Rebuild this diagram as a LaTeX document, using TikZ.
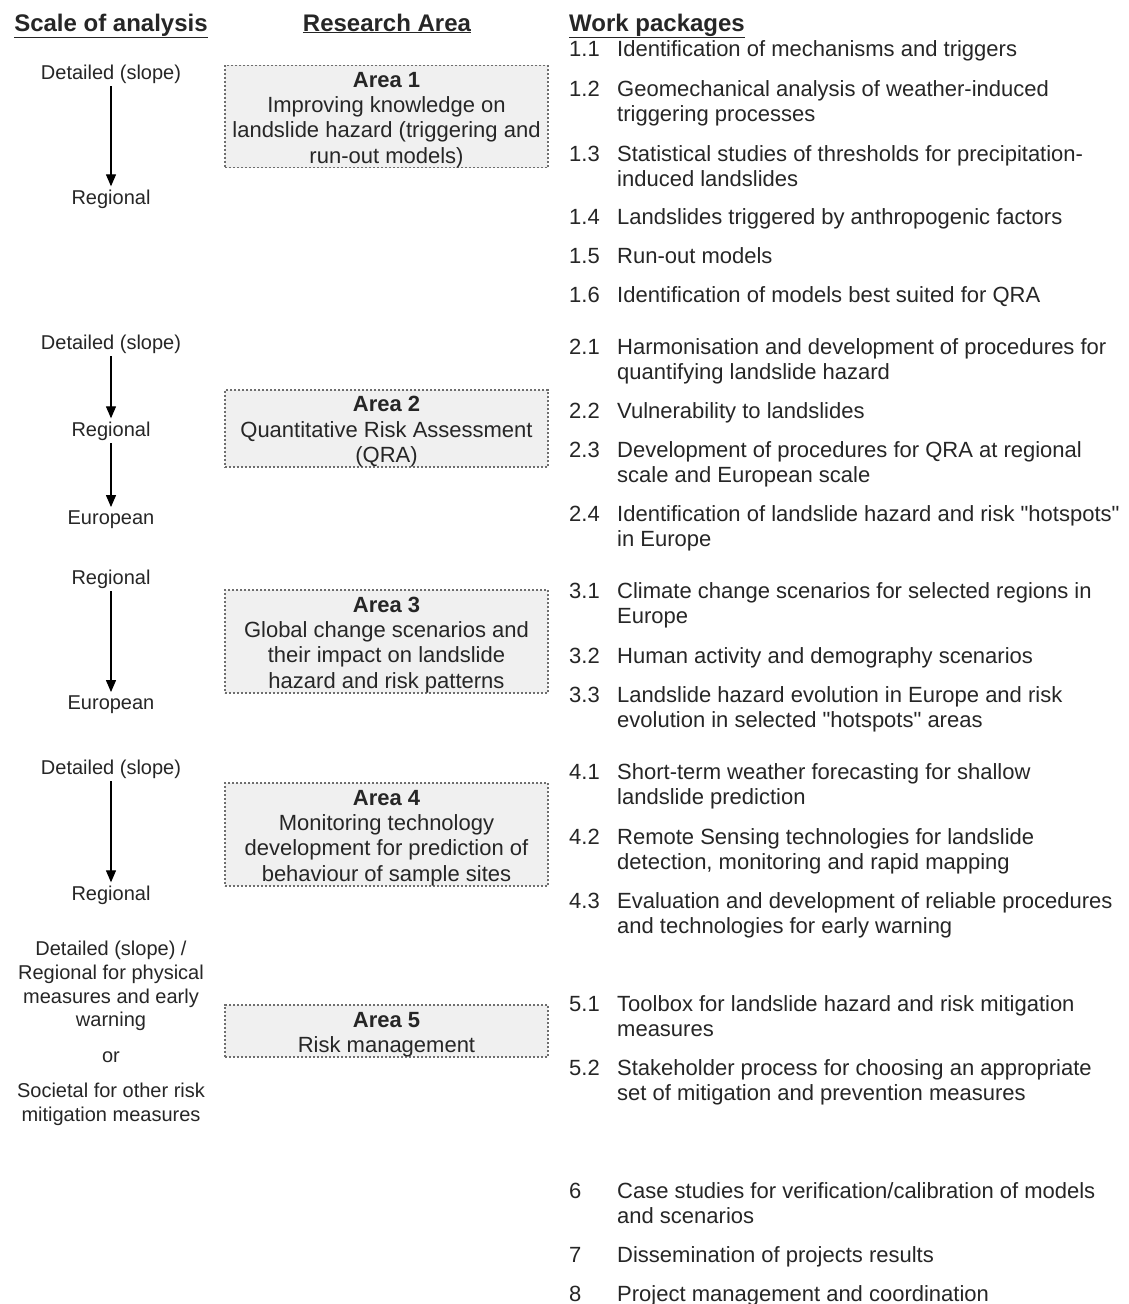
\documentclass[tikz,border=0pt]{standalone}
\usepackage{fontspec}
\setmainfont{Liberation Sans}[Ligatures=TeXOff]
\usetikzlibrary{arrows.meta}
\definecolor{txt}{HTML}{262626}
\definecolor{boxfill}{HTML}{F0F0F0}
\definecolor{boxline}{HTML}{6E6E6E}
\tikzset{
  hdr/.style={font=\fontsize{24}{28}\selectfont\bfseries, text=txt, inner sep=0pt},
  wpnum/.style={anchor=base west, inner sep=0pt, font=\fontsize{22}{25.5}\selectfont, text=txt},
  wptxt/.style={anchor=base west, inner sep=0pt, font=\fontsize{22}{25.5}\selectfont, text=txt},
  scl/.style={anchor=base, inner xsep=0pt, inner ysep=3pt, font=\fontsize{20}{23.7}\selectfont, text=txt, align=center},
  sclblock/.style={inner xsep=0pt, inner ysep=0pt, font=\fontsize{20}{23.7}\selectfont, text=txt, align=center},
  arr/.style={-{Triangle[width=10pt,length=12pt]}, line width=1.3pt, draw=black},
  areabox/.style={draw=boxline, fill=boxfill, dash pattern=on 2pt off 2pt, line width=1.3pt,
    minimum width=323pt, align=center, inner sep=0pt, font=\fontsize{22}{25.3}\selectfont, text=txt}
}
\newcommand\wpA[4]{%
  \node[wpnum] (n#1) at (569,#2) {#3};
  \node[wptxt] (t#1) at (617,#2) {#4};}
\newcommand\wpB[5]{%
  \node[wpnum] (n#1) at (569,#2) {#3};
  \node[wptxt] (t#1) at (617,#2) {#4};
  \node[wptxt] (t#1b) at (617,{#2+25.5}) {#5};}
\newcommand\tstrut{\rule{0pt}{22pt}}
\begin{document}
\begin{tikzpicture}[x={(1pt,0)}, y={(0,-1pt)}]
\useasboundingbox (0,0) rectangle (1128,1304);
\fill[white] (0,0) rectangle (1128,1304);

% headers
\node[hdr, anchor=base] (h1) at (111,31) {\underline{Scale of analysis}};
\node[hdr, anchor=base] (h2) at (387,31) {\underline{Research Area}};
\node[hdr, anchor=base west] (h3) at (569,31) {\underline{Work packages}};

% scale of analysis
\node[scl] (d1) at (111,79) {Detailed (slope)};
\node[scl] (r1) at (111,204) {Regional};
\draw[arr] (d1.south) -- (r1.north);

\node[scl] (d2) at (111,349) {Detailed (slope)};
\node[scl] (r2) at (111,436) {Regional};
\node[scl] (e2) at (111,524) {European};
\draw[arr] (d2.south) -- (r2.north);
\draw[arr] (r2.south) -- (e2.north);

\node[scl] (r3) at (111,584) {Regional};
\node[scl] (e3) at (111,709) {European};
\draw[arr] (r3.south) -- (e3.north);

\node[scl] (d4) at (111,774) {Detailed (slope)};
\node[scl] (r4) at (111,900) {Regional};
\draw[arr] (d4.south) -- (r4.north);

\node[sclblock] (s5a) at (111,986) {Detailed (slope) /\\Regional for physical\\measures and early\\warning};
\node[scl] (s5or) at (111,1062) {or};
\node[sclblock] (s5b) at (111,1104) {Societal for other risk\\mitigation measures};

% research areas
\node[areabox, minimum height=101pt] (a1) at (386.5,116.5) {\tstrut\textbf{Area 1}\\Improving knowledge on\\landslide hazard (triggering and\\run-out models)};
\node[areabox, minimum height=77pt] (a2) at (386.5,428.5) {\tstrut\textbf{Area 2}\\Quantitative Risk Assessment\\(QRA)};
\node[areabox, minimum height=103pt] (a3) at (386.5,641.5) {\tstrut\textbf{Area 3}\\Global change scenarios and\\their impact on landslide\\hazard and risk patterns};
\node[areabox, minimum height=103pt] (a4) at (386.5,834.5) {\tstrut\textbf{Area 4}\\Monitoring technology\\development for prediction of\\behaviour of sample sites};
\node[areabox, minimum height=50pt] (a5) at (386.5,1031) {\tstrut\textbf{Area 5}\\Risk management};

% work packages
\wpA{11}{56}{1.1}{Identification of mechanisms and triggers}
\wpB{12}{96}{1.2}{Geomechanical analysis of weather-induced}{triggering processes}
\wpB{13}{161}{1.3}{Statistical studies of thresholds for precipitation-}{induced landslides}
\wpA{14}{224}{1.4}{Landslides triggered by anthropogenic factors}
\wpA{15}{263}{1.5}{Run-out models}
\wpA{16}{302}{1.6}{Identification of models best suited for QRA}
\wpB{21}{354}{2.1}{Harmonisation and development of procedures for}{quantifying landslide hazard}
\wpA{22}{418}{2.2}{Vulnerability to landslides}
\wpB{23}{457}{2.3}{Development of procedures for QRA at regional}{scale and European scale}
\wpB{24}{521}{2.4}{Identification of landslide hazard and risk "hotspots"}{in Europe}
\wpB{31}{598}{3.1}{Climate change scenarios for selected regions in}{Europe}
\wpA{32}{663}{3.2}{Human activity and demography scenarios}
\wpB{33}{702}{3.3}{Landslide hazard evolution in Europe and risk}{evolution in selected "hotspots" areas}
\wpB{41}{779}{4.1}{Short-term weather forecasting for shallow}{landslide prediction}
\wpB{42}{844}{4.2}{Remote Sensing technologies for landslide}{detection, monitoring and rapid mapping}
\wpB{43}{908}{4.3}{Evaluation and development of reliable procedures}{and technologies for early warning}
\wpB{51}{1011}{5.1}{Toolbox for landslide hazard and risk mitigation}{measures}
\wpB{52}{1075}{5.2}{Stakeholder process for choosing an appropriate}{set of mitigation and prevention measures}
\wpB{6}{1198}{6}{Case studies for verification/calibration of models}{and scenarios}
\wpA{7}{1262}{7}{Dissemination of projects results}
\wpA{8}{1301}{8}{Project management and coordination}
\end{tikzpicture}
\end{document}
